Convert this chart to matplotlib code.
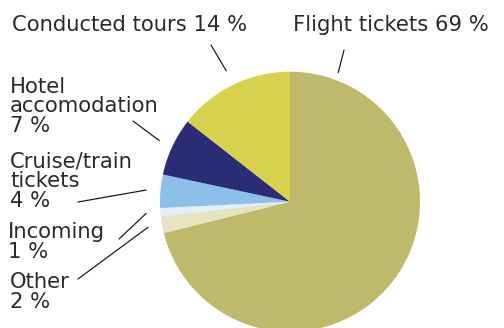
import numpy as np
import matplotlib
matplotlib.use('Agg')
import matplotlib.pyplot as plt

# Share of sales per product (%), clockwise from 12 o'clock.
categories = ['Flight tickets', 'Other', 'Incoming', 'Cruise/train\ntickets',
              'Hotel\naccomodation', 'Conducted tours']
shares = [69, 2, 1, 4, 7, 14]
colors = ['#bfba6b', '#e6e3c1', '#e4eef7', '#8cc0e8', '#2a2d75', '#d8d14d']

# Label layout in pixels (left x, last-line baseline y from the top),
# start of each leader line, and where along the wedge it points.
label_pos = [(293, 31), (10, 308), (8, 258), (10, 207), (10, 132), (12, 31)]
leader_start = [(344, 50), (78, 279), (119, 239), (78, 202), (133, 121), (211, 45)]
leader_frac = [0.92, 0.5, 0.5, 0.5, 0.5, 0.5]
leader_r = [1.06, 1.11, 1.11, 1.11, 1.11, 1.12]

W, H = 504, 328
fig = plt.figure(figsize=(W / 100, H / 100), dpi=100)

# Pie of radius 130 px centred at (290, 202).
cx, cy, r = 290, 201.7, 130
ax = fig.add_axes([(cx - r) / W, (H - cy - r) / H, 2 * r / W, 2 * r / H])
wedges, _ = ax.pie(shares, colors=colors, startangle=90, counterclock=False,
                   radius=1, wedgeprops=dict(linewidth=0))
for w in wedges:
    w.set_clip_on(False)
ax.set_xlim(-1, 1)
ax.set_ylim(-1, 1)
ax.axis('off')

for i, (name, v) in enumerate(zip(categories, shares)):
    sep = '\n' if '\n' in name or name in ('Incoming', 'Other') else ' '
    x, y = label_pos[i]
    fig.text(x / W, 1 - y / H, f'{name}{sep}{v} %', ha='left', va='baseline',
             fontsize=15.2, color='#2a2a2a', linespacing=0.97,
             family='DejaVu Sans')

    w = wedges[i]
    ang = np.deg2rad(w.theta1 + leader_frac[i] * (w.theta2 - w.theta1))
    sx, sy = leader_start[i]
    ax.annotate('', xy=(leader_r[i] * np.cos(ang), leader_r[i] * np.sin(ang)),
                xycoords='data', xytext=(sx, H - sy), textcoords='figure pixels',
                arrowprops=dict(arrowstyle='-', color='#1e1e1e', lw=0.9,
                                shrinkA=0, shrinkB=0),
                annotation_clip=False)

fig.savefig('out.png', dpi=100)
